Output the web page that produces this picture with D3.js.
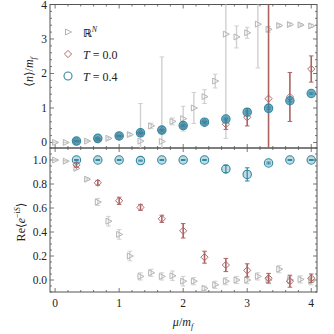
<!DOCTYPE html>
<html>
<head>
<meta charset="utf-8">
<script src="https://cdn.jsdelivr.net/npm/d3@7"></script>
<style>
  body { margin: 0; background: #fff; }
  svg { display: block; font-family: "Liberation Serif", "DejaVu Serif", serif; }
</style>
</head>
<body>
<svg id="chart" width="334" height="334"></svg>
<script>
// mu / m_f grid: gray at steps of 1/6, T series at steps of 1/3
const muFine = d3.range(0, 25).map(i => i / 6);
const muCoarse = d3.range(1, 13).map(i => i / 3);

// <n>/m_f
const nRN = [0.0, 0.0, 0.04, 0.04, 0.08, 0.12, 0.17, 0.23, 0.04, 0.48, 0.03, 0.61, 0.69,
  1.0, 1.33, 1.78, 3.14, 3.06, 3.18, 3.43, 3.28, 3.39, 3.42, 3.41, 3.38];
const nRNerr = [0.01, 0.01, 0.02, 0.02, 0.02, 0.03, 0.03, 0.04, 1.09, 0.08, 2.45, 0.1, 0.36,
  0.45, 0.2, 0.2, 3.02, 0.32, 0.16, 1.27, 0.08, 0.04, 0.04, 0.03, 0.05];
const nT0 = [0.03, 0.08, 0.19, 0.27, 0.34, 0.48, 0.58, 0.53, 0.73, 1.27, 1.32, 2.13];
const nT0err = [0.01, 0.02, 0.02, 0.03, 0.03, 0.03, 0.04, 0.15, 0.25, 3.5, 0.71, 0.38];
const nT4 = [0.04, 0.12, 0.19, 0.28, 0.36, 0.49, 0.59, 0.68, 0.88, 0.99, 1.21, 1.42];
const nT4err = [0.01, 0.01, 0.01, 0.02, 0.02, 0.02, 0.02, 0.03, 0.03, 0.03, 0.03, 0.02];

// Re<e^{-iS}>
const sRN = [1.0, 0.99, 0.93, 0.84, 0.65, 0.49, 0.38, 0.2, 0.03, 0.06, 0.03, 0.035, -0.01,
  -0.01, -0.07, -0.04, -0.01, 0.0, 0.0, 0.03, 0.0, 0.09, 0.0, 0.005, -0.01];
const sRNerr = [0.003, 0.005, 0.01, 0.01, 0.03, 0.04, 0.04, 0.04, 0.03, 0.03, 0.03, 0.04, 0.04,
  0.03, 0.02, 0.03, 0.03, 0.03, 0.03, 0.03, 0.03, 0.03, 0.03, 0.03, 0.03];
const sT0 = [0.96, 0.81, 0.66, 0.605, 0.51, 0.41, 0.19, 0.125, 0.08, 0.015, -0.01, 0.015];
const sT0err = [0.02, 0.02, 0.03, 0.025, 0.03, 0.06, 0.05, 0.055, 0.055, 0.04, 0.05, 0.035];
const sT4 = [1.0, 1.0, 1.0, 0.995, 1.0, 1.0, 1.0, 0.925, 0.88, 0.975, 1.0, 1.0];
const sT4err = [0.004, 0.004, 0.004, 0.004, 0.004, 0.004, 0.004, 0.03, 0.055, 0.008, 0.004, 0.004];

const xTicks = [0, 1, 2, 3, 4];

const svg = d3.select('#chart');
const axisColor = '#555';
const gray = '#b4b4b4', grayBar = '#d0d0d0';
const red = '#b36a6a', redBar = '#ad6262';
const teal = '#3188a2';

const x = d3.scaleLinear().domain([-0.08, 4.09]).range([50, 317]);
const yTop = d3.scaleLinear().domain([-0.16, 4.0]).range([148, 4.5]);
const yBot = d3.scaleLinear().domain([-0.1, 1.1]).range([292, 148]);

const toPts = (xs, ys, es) => xs.map((m, i) => ({ x: m, y: ys[i], e: es[i] }));

function frame(y, major, minor, labelFmt, id) {
  const [y0, y1] = y.range();
  const [xl, xr] = x.range();
  const g = svg.append('g');
  svg.append('clipPath').attr('id', id).append('rect')
    .attr('x', xl).attr('y', y1).attr('width', xr - xl).attr('height', y0 - y1);

  // x ticks (inward, bottom and top)
  const xMinor = d3.range(0, 4.01, 0.2);
  xMinor.forEach(v => {
    const len = xTicks.includes(Math.round(v * 10) / 10) ? 4 : 2;
    g.append('line').attr('x1', x(v)).attr('x2', x(v)).attr('y1', y0).attr('y2', y0 - len)
      .attr('stroke', axisColor).attr('stroke-width', 0.8);
    g.append('line').attr('x1', x(v)).attr('x2', x(v)).attr('y1', y1).attr('y2', y1 + len)
      .attr('stroke', axisColor).attr('stroke-width', 0.8);
  });
  // y ticks (inward, left and right)
  minor.forEach(v => {
    const len = major.some(m => Math.abs(m - v) < 1e-6) ? 4 : 2;
    g.append('line').attr('x1', xl).attr('x2', xl + len).attr('y1', y(v)).attr('y2', y(v))
      .attr('stroke', axisColor).attr('stroke-width', 0.8);
    g.append('line').attr('x1', xr).attr('x2', xr - len).attr('y1', y(v)).attr('y2', y(v))
      .attr('stroke', axisColor).attr('stroke-width', 0.8);
  });
  major.forEach(v => {
    g.append('text').attr('x', xl - 3).attr('y', y(v) + 4)
      .attr('text-anchor', 'end').attr('font-size', 11.5).attr('fill', '#222')
      .text(labelFmt(v));
  });
  g.append('rect').attr('x', xl).attr('y', y1).attr('width', xr - xl).attr('height', y0 - y1)
    .attr('fill', 'none').attr('stroke', axisColor).attr('stroke-width', 1);
}

function errorBars(g, pts, y, color, width, cap) {
  g.selectAll(null).data(pts).enter().append('line')
    .attr('x1', d => x(d.x)).attr('x2', d => x(d.x))
    .attr('y1', d => y(d.y - d.e)).attr('y2', d => y(d.y + d.e))
    .attr('stroke', color).attr('stroke-width', width);
  [-1, 1].forEach(s => {
    g.selectAll(null).data(pts).enter().append('line')
      .attr('x1', d => x(d.x) - cap).attr('x2', d => x(d.x) + cap)
      .attr('y1', d => y(d.y + s * d.e)).attr('y2', d => y(d.y + s * d.e))
      .attr('stroke', color).attr('stroke-width', 1);
  });
}

const triPath = 'M-2.5,-3L3.5,0L-2.5,3Z';
const diaPath = 'M0,-3.6L3.6,0L0,3.6L-3.6,0Z';

function panel(y, rn, t0, t4, id, tealFill) {
  const g = svg.append('g').attr('clip-path', `url(#${id})`);
  errorBars(g, rn, y, grayBar, 1.4, 2.3);
  g.selectAll(null).data(rn).enter().append('path')
    .attr('d', triPath).attr('transform', d => `translate(${x(d.x)},${y(d.y)})`)
    .attr('fill', 'none').attr('stroke', gray).attr('stroke-width', 1);
  errorBars(g, t0, y, redBar, 1.6, 2.3);
  g.selectAll(null).data(t0).enter().append('path')
    .attr('d', diaPath).attr('transform', d => `translate(${x(d.x)},${y(d.y)})`)
    .attr('fill', 'none').attr('stroke', red).attr('stroke-width', 1);
  errorBars(g, t4, y, teal, 1.2, 2.3);
  g.selectAll(null).data(t4).enter().append('circle')
    .attr('cx', d => x(d.x)).attr('cy', d => y(d.y)).attr('r', 4.2)
    .attr('fill', teal).attr('fill-opacity', tealFill)
    .attr('stroke', teal).attr('stroke-width', 1.1);
}

frame(yTop, [0, 1, 2, 3, 4], d3.range(0, 4.01, 0.2), d => d3.format('d')(d), 'clipTop');
frame(yBot, [0, 0.2, 0.4, 0.6, 0.8, 1.0], d3.range(-0.1, 1.101, 0.05).map(v => Math.round(v * 100) / 100),
  d => d.toFixed(1), 'clipBot');

panel(yTop, toPts(muFine, nRN, nRNerr), toPts(muCoarse, nT0, nT0err), toPts(muCoarse, nT4, nT4err), 'clipTop', 0.7);
panel(yBot, toPts(muFine, sRN, sRNerr), toPts(muCoarse, sT0, sT0err), toPts(muCoarse, sT4, sT4err), 'clipBot', 0.3);

// x tick labels
xTicks.forEach(v => {
  svg.append('text').attr('x', x(v)).attr('y', 307).attr('text-anchor', 'middle')
    .attr('font-size', 11.5).attr('fill', '#222').text(v);
});

// axis labels
const xl = svg.append('text').attr('x', 183).attr('y', 326).attr('text-anchor', 'middle')
  .attr('font-size', 12).attr('fill', '#222');
xl.append('tspan').attr('font-style', 'italic').text('μ');
xl.append('tspan').text('/');
xl.append('tspan').attr('font-style', 'italic').text('m');
xl.append('tspan').attr('font-style', 'italic').attr('font-size', 8).attr('dy', 2.5).text('f');

const yl1 = svg.append('text').attr('transform', 'translate(33,72) rotate(-90)')
  .attr('text-anchor', 'middle').attr('font-size', 12).attr('fill', '#222');
yl1.append('tspan').text('⟨');
yl1.append('tspan').attr('font-style', 'italic').text('n');
yl1.append('tspan').text('⟩/');
yl1.append('tspan').attr('font-style', 'italic').text('m');
yl1.append('tspan').attr('font-style', 'italic').attr('font-size', 8).attr('dy', 2.5).text('f');

const yl2 = svg.append('text').attr('transform', 'translate(25,222) rotate(-90)')
  .attr('text-anchor', 'middle').attr('font-size', 12).attr('fill', '#222');
yl2.append('tspan').text('Re⟨');
yl2.append('tspan').attr('font-style', 'italic').text('e');
yl2.append('tspan').attr('font-size', 8).attr('dy', -5).text('−i');
yl2.append('tspan').attr('font-size', 8).attr('font-style', 'italic').text('S');
yl2.append('tspan').attr('dy', 5).text('⟩');

// legend
const legend = svg.append('g').attr('transform', 'translate(68,32)');
const rows = [
  { sym: triPath, color: gray },
  { sym: diaPath, color: red },
  { sym: null, color: teal }
];
rows.forEach((r, i) => {
  const gy = i * 22;
  if (r.sym) {
    legend.append('path').attr('d', r.sym).attr('transform', `translate(0,${gy})`)
      .attr('fill', 'none').attr('stroke', r.color).attr('stroke-width', 1);
  } else {
    legend.append('circle').attr('cx', 0).attr('cy', gy).attr('r', 4)
      .attr('fill', 'none').attr('stroke', r.color).attr('stroke-width', 1.1);
  }
});
const l0 = legend.append('text').attr('x', 15).attr('y', 4.5).attr('font-size', 12).attr('fill', '#222');
l0.append('tspan').attr('font-family', 'DejaVu Sans').attr('font-weight', 'bold').attr('font-size', 11).text('ℝ');
l0.append('tspan').attr('font-style', 'italic').attr('font-size', 8).attr('dy', -5).text('N');
['0.0', '0.4'].forEach((v, i) => {
  const t = legend.append('text').attr('x', 15).attr('y', 22 * (i + 1) + 4.5)
    .attr('font-size', 12).attr('fill', '#222');
  t.append('tspan').attr('font-style', 'italic').text('T');
  t.append('tspan').text(' = ' + v);
});
</script>
</body>
</html>
